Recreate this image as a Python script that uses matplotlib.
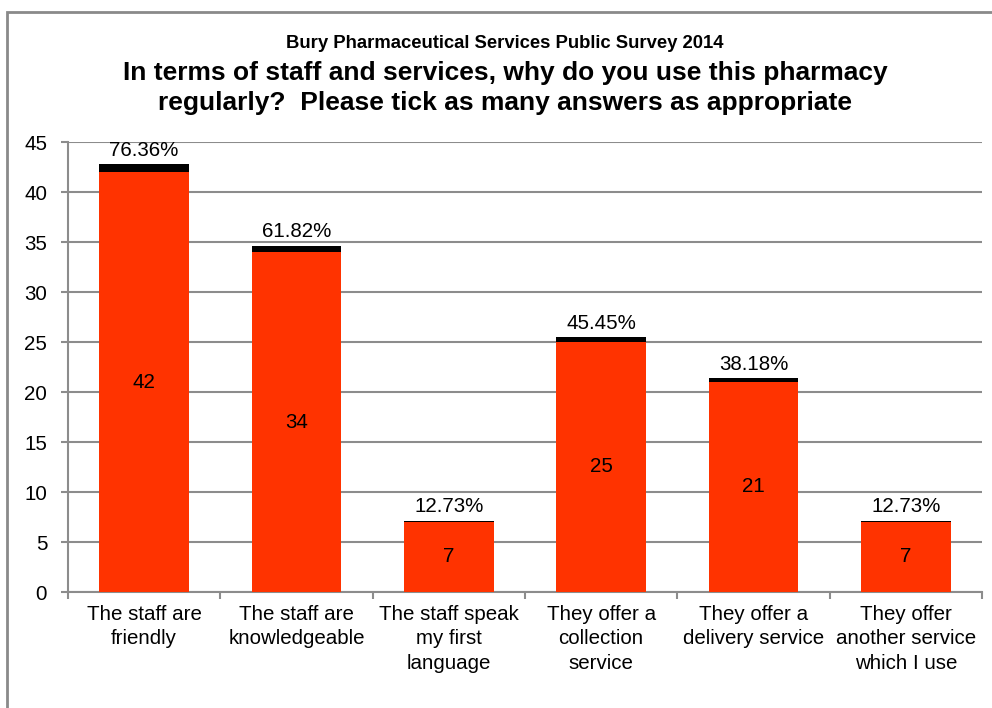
import matplotlib
matplotlib.use("Agg")
import matplotlib.pyplot as plt
from matplotlib.patches import Rectangle
import numpy as np

plt.rcParams['font.family'] = ['Liberation Sans', 'DejaVu Sans']

categories = [
    "The staff are\nfriendly",
    "The staff are\nknowledgeable",
    "The staff speak\nmy first\nlanguage",
    "They offer a\ncollection\nservice",
    "They offer a\ndelivery service",
    "They offer\nanother service\nwhich I use",
]
counts = [42, 34, 7, 25, 21, 7]
percents = [76.36, 61.82, 12.73, 45.45, 38.18, 12.73]
yticks = [0, 5, 10, 15, 20, 25, 30, 35, 40, 45]

subtitle = "Bury Pharmaceutical Services Public Survey 2014"
title = "In terms of staff and services, why do you use this pharmacy\nregularly?  Please tick as many answers as appropriate"

bar_color = "#FF3300"
grid_color = "#8c8c8c"
fs = 14.8

fig = plt.figure(figsize=(9.92, 7.08), dpi=100)
W, H = 992, 708
ax = fig.add_axes([68 / W, 1 - 592 / H, (982 - 68) / W, (592 - 142) / H])

# chart frame
fig.patches.append(Rectangle((7 / W, -0.1), 1.2, 1 - 12 / H + 0.1, transform=fig.transFigure,
                             fill=False, edgecolor="#8a8a8a", linewidth=2, zorder=0))

x = np.arange(len(categories))
fractions = [p / 100 for p in percents]
ax.bar(x, counts, width=0.59, color=bar_color, zorder=3)
ax.bar(x, fractions, width=0.59, bottom=counts, color="black", zorder=3)

for xi, c, p, f in zip(x, counts, percents, fractions):
    ax.text(xi, c / 2, f"{c}", ha="center", va="center", fontsize=fs, color="black", zorder=4)
    ax.text(xi, c + f + 0.45, f"{p:.2f}%", ha="center", va="bottom", fontsize=fs, color="black", zorder=4)

ax.set_xlim(-0.5, len(categories) - 0.5)
ax.set_ylim(0, 45)
ax.set_yticks(yticks)
ax.set_yticklabels([str(v) for v in yticks], fontsize=fs)
ax.set_xticks(x)
ax.set_xticklabels(categories, fontsize=fs, linespacing=1.38)
ax.set_xticks(np.arange(len(categories) + 1) - 0.5, minor=True)
ax.tick_params(axis="x", which="major", length=0, pad=9)
ax.tick_params(axis="x", which="minor", length=5, color=grid_color, width=1.5, direction="out")
ax.tick_params(axis="y", length=5, color=grid_color, width=1.5, pad=10)

ax.yaxis.grid(True, color=grid_color, linewidth=1.5, zorder=0)
ax.set_axisbelow(True)
for side in ["top", "right"]:
    ax.spines[side].set_visible(False)
for side in ["left", "bottom"]:
    ax.spines[side].set_color(grid_color)
    ax.spines[side].set_linewidth(1.5)

fig.text(505 / W, 1 - 43 / H, subtitle, ha="center", va="center", fontsize=13.3, fontweight="bold")
fig.text(505 / W, 1 - 88 / H, title, ha="center", va="center", fontsize=19, fontweight="bold",
         linespacing=1.32)

fig.savefig("out.png", dpi=100)
